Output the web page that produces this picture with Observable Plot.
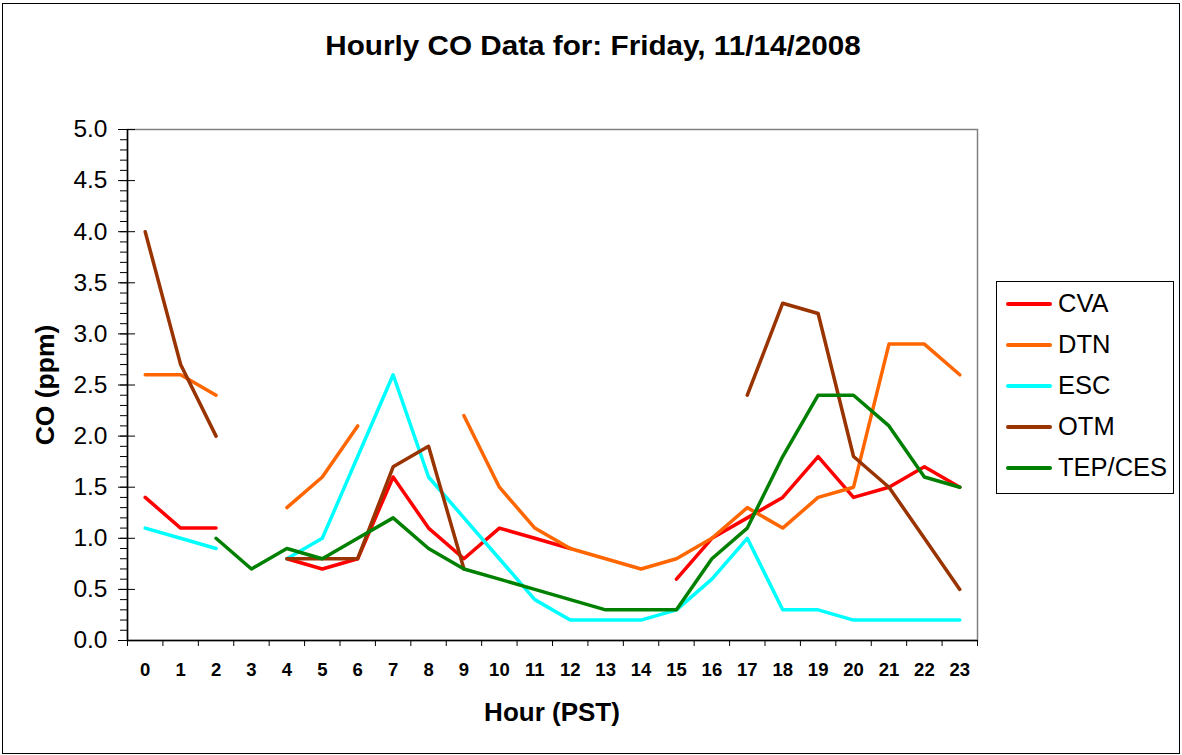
<!DOCTYPE html>
<html>
<head>
<meta charset="utf-8">
<script src="https://cdn.jsdelivr.net/npm/d3@7"></script>
<script src="https://cdn.jsdelivr.net/npm/@observablehq/plot@0.6"></script>
<style>
  html, body { margin: 0; padding: 0; background: #fff; }
  body { font-family: "Liberation Sans", Arial, sans-serif; color: #000; }
  #wrap { position: relative; width: 1182px; height: 755px; overflow: hidden; background: #fff; }
  #chart { position: absolute; left: 0; top: 0; }
  #border { position: absolute; left: 2px; top: 3px; width: 1178px; height: 751px; border: 1.5px solid #000; box-sizing: border-box; pointer-events: none; }
  #title { position: absolute; left: 593px; top: 46px; transform: translate(-50%, -50%) scaleX(1.06); font-weight: bold; font-size: 28px; white-space: nowrap; }
  #ylabel { position: absolute; left: 45px; top: 385px; transform: translate(-50%, -50%) rotate(-90deg); font-weight: bold; font-size: 26.5px; white-space: nowrap; }
  #xlabel { position: absolute; left: 552px; top: 712px; transform: translate(-50%, -50%); font-weight: bold; font-size: 26px; white-space: nowrap; }
  #legend { position: absolute; left: 996px; top: 281px; width: 178px; height: 213px; border: 1px solid #000; box-sizing: border-box; background: #fff; }
  .item { position: absolute; left: 0; height: 0; }
  .swatch { position: absolute; left: 9px; width: 46px; height: 4px; top: -2px; border-radius: 2px; }
  .lab { position: absolute; left: 61px; top: 0; transform: translateY(-50%); font-size: 25.5px; white-space: nowrap; line-height: 1; }
</style>
</head>
<body>
<div id="wrap">
  <div id="chart"></div>
  <div id="title"></div>
  <div id="ylabel"></div>
  <div id="xlabel"></div>
  <div id="legend"></div>
  <div id="border"></div>
</div>
<script>
// ---- Data ----
const titleText = "Hourly CO Data for: Friday, 11/14/2008";
const yLabelText = "CO (ppm)";
const xLabelText = "Hour (PST)";

const hours = [0,1,2,3,4,5,6,7,8,9,10,11,12,13,14,15,16,17,18,19,20,21,22,23];
const seriesNames = ["CVA", "DTN", "ESC", "OTM", "TEP/CES"];
const seriesColors = ["#FF0000", "#FF6600", "#00FFFF", "#993300", "#008000"];

const cva    = [1.4, 1.1, 1.1, null, 0.8, 0.7, 0.8, 1.6, 1.1, 0.8, 1.1, 1.0, 0.9, null, null, 0.6, 1.0, 1.2, 1.4, 1.8, 1.4, 1.5, 1.7, 1.5];
const dtn    = [2.6, 2.6, 2.4, null, 1.3, 1.6, 2.1, null, null, 2.2, 1.5, 1.1, 0.9, 0.8, 0.7, 0.8, 1.0, 1.3, 1.1, 1.4, 1.5, 2.9, 2.9, 2.6];
const esc    = [1.1, 1.0, 0.9, null, 0.8, 1.0, 1.8, 2.6, 1.6, 1.2, 0.8, 0.4, 0.2, 0.2, 0.2, 0.3, 0.6, 1.0, 0.3, 0.3, 0.2, 0.2, 0.2, 0.2];
const otm    = [4.0, 2.7, 2.0, null, 0.8, 0.8, 0.8, 1.7, 1.9, 0.7, null, null, null, null, null, null, null, 2.4, 3.3, 3.2, 1.8, 1.5, 1.0, 0.5];
const tepces = [null, null, 1.0, 0.7, 0.9, 0.8, 1.0, 1.2, 0.9, 0.7, 0.6, 0.5, 0.4, 0.3, 0.3, 0.3, 0.8, 1.1, 1.8, 2.4, 2.4, 2.1, 1.6, 1.5];

const yMajorTicks = [0.0, 0.5, 1.0, 1.5, 2.0, 2.5, 3.0, 3.5, 4.0, 4.5, 5.0];
const yMinorTicks = [0.0,0.1,0.2,0.3,0.4,0.5,0.6,0.7,0.8,0.9,1.0,1.1,1.2,1.3,1.4,1.5,1.6,1.7,1.8,1.9,2.0,2.1,2.2,2.3,2.4,2.5,2.6,2.7,2.8,2.9,3.0,3.1,3.2,3.3,3.4,3.5,3.6,3.7,3.8,3.9,4.0,4.1,4.2,4.3,4.4,4.5,4.6,4.7,4.8,4.9,5.0];
const xBoundaryTicks = [-0.5,0.5,1.5,2.5,3.5,4.5,5.5,6.5,7.5,8.5,9.5,10.5,11.5,12.5,13.5,14.5,15.5,16.5,17.5,18.5,19.5,20.5,21.5,22.5,23.5];

// ---- Build table ----
const seriesValues = [cva, dtn, esc, otm, tepces];
const rows = [];
seriesNames.forEach((name, i) => {
  hours.forEach((h, j) => {
    const v = seriesValues[i][j];
    rows.push({ series: name, hour: h, co: v == null ? NaN : v });
  });
});

// ---- Chart ----
const chart = Plot.plot({
  width: 1182,
  height: 755,
  marginLeft: 127,
  marginRight: 205,
  marginTop: 129,
  marginBottom: 115,
  style: { fontFamily: "Liberation Sans, Arial, sans-serif", background: "transparent", color: "#000", overflow: "visible" },
  x: { type: "linear", domain: [-0.5, 23.5], label: null },
  y: { domain: [0, 5], label: null },
  color: { domain: seriesNames, range: seriesColors },
  marks: [
    Plot.frame({ stroke: "#808080", strokeWidth: 1.5 }),
    Plot.line(rows, { x: "hour", y: "co", z: "series", stroke: "series", strokeWidth: 3.5, strokeLinejoin: "round", strokeLinecap: "round" }),
    Plot.ruleX([-0.5], { stroke: "#000", strokeWidth: 1.5 }),
    Plot.ruleY([0], { stroke: "#000", strokeWidth: 1.5 }),
    Plot.axisX(xBoundaryTicks, { tickSize: 6, tickFormat: () => "", label: null, stroke: "#000" }),
    Plot.axisX(hours, { tickSize: 0, tickPadding: 22, tickFormat: d => String(d), fontSize: 18.5, fontWeight: "bold", label: null }),
    Plot.axisY(yMinorTicks, { tickSize: 7, tickFormat: () => "", label: null, stroke: "#000" }),
    Plot.axisY(yMajorTicks, { tickSize: 9, tickPadding: 11, tickFormat: d => d.toFixed(1), fontSize: 24.5, label: null, stroke: "#000" }),
    Plot.tickY(yMajorTicks, { y: d => d, insetRight: 842, stroke: "#000", strokeWidth: 1 })
  ]
});
document.getElementById("chart").appendChild(chart);

// ---- Text ----
document.getElementById("title").textContent = titleText;
document.getElementById("ylabel").textContent = yLabelText;
document.getElementById("xlabel").textContent = xLabelText;

// ---- Legend ----
const legend = document.getElementById("legend");
seriesNames.forEach((name, i) => {
  const item = document.createElement("div");
  item.className = "item";
  item.style.top = (22 + i * 41) + "px";
  const sw = document.createElement("div");
  sw.className = "swatch";
  sw.style.background = seriesColors[i];
  const lab = document.createElement("div");
  lab.className = "lab";
  lab.textContent = name;
  item.appendChild(sw);
  item.appendChild(lab);
  legend.appendChild(item);
});
</script>
</body>
</html>
